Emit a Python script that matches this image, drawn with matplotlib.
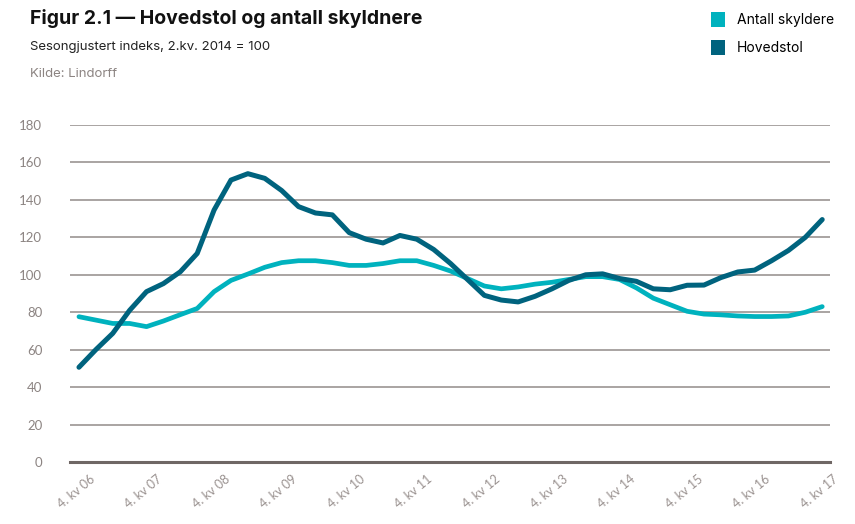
import matplotlib.pyplot as plt
from matplotlib.patches import Patch
import matplotlib.transforms as mtransforms

plt.rcParams['font.family'] = ['Inter', 'DejaVu Sans']

# kvartaler fra 4.kv 06 til 4.kv 17
etiketter = ["4. kv 06", "4. kv 07", "4. kv 08", "4. kv 09", "4. kv 10", "4. kv 11",
             "4. kv 12", "4. kv 13", "4. kv 14", "4. kv 15", "4. kv 16", "4. kv 17"]

hovedstol = [50.6, 60, 68.7, 81, 91, 95.3, 101.6, 111.4, 134.6, 150.6,
             154, 151.5, 145, 136.4, 133, 132, 122.5, 119, 117, 121,
             119, 113.5, 106, 97.5, 89, 86.5, 85.5, 88.5, 92.5, 97,
             100, 100.5, 98, 96.5, 92.5, 92, 94.4, 94.5, 98.5, 101.5,
             102.5, 107.5, 113, 120, 129.5]

antall_skyldnere = [77.6, 75.8, 74, 74, 72.3, 75.3, 78.7, 82, 91, 97,
                    100.4, 104, 106.5, 107.5, 107.5, 106.5, 105, 105, 106, 107.5,
                    107.5, 105, 102, 98, 94, 92.5, 93.5, 95, 96, 97.5,
                    99, 99, 97.5, 93, 87.5, 84, 80.5, 79, 78.6, 78,
                    77.7, 77.7, 78, 80, 83]

lys = "#00b2be"
mork = "#00637e"
grid_farge = "#a39d9b"
tekst_grå = "#8c8482"

fig = plt.figure(figsize=(8.55, 5.24), dpi=100)
ax = fig.add_axes([70/855, 62/524, 760/855, 337/524])

x = list(range(len(hovedstol)))
ax.plot(x, antall_skyldnere, color=lys, lw=3.4, solid_capstyle='round', solid_joinstyle='round', zorder=3)
ax.plot(x, hovedstol, color=mork, lw=3.6, solid_capstyle='round', solid_joinstyle='round', zorder=4)

ax.set_xlim(-0.53, 44.46)
ax.set_ylim(0, 180)
ax.set_yticks(range(0, 181, 20))
for v in range(20, 181, 20):
    ax.axhline(v, color=grid_farge, lw=1.3, zorder=1)
ax.axhline(0, color="#6f6765", lw=2.2, zorder=2, clip_on=False)

for s in ax.spines.values():
    s.set_visible(False)

ax.tick_params(axis='y', length=0, pad=20, labelsize=9.5, labelcolor=tekst_grå)
ax.tick_params(axis='x', length=0, pad=11, labelsize=9, labelcolor="#9a9290")
for lab in ax.get_yticklabels():
    lab.set_fontfamily(['Lato', 'DejaVu Sans'])

ax.set_xticks(range(0, 45, 4))
ax.set_xticklabels(etiketter, rotation=40, ha='right', va='center', rotation_mode='anchor',
                   fontfamily=['Lato', 'DejaVu Sans'])
forskyv = mtransforms.ScaledTranslation(14/100, 0, fig.dpi_scale_trans)
for lab in ax.get_xticklabels():
    lab.set_transform(lab.get_transform() + forskyv)

fig.text(30/855, 1 - 9/524, "Figur 2.1 — Hovedstol og antall skyldnere", fontsize=14,
         fontweight='bold', va='top', ha='left', color="#111111")
fig.text(30/855, 1 - 41/524, "Sesongjustert indeks, 2.kv. 2014 = 100", fontsize=9.5,
         va='top', ha='left', color="#222222")
fig.text(30/855, 1 - 68/524, "Kilde: Lindorff", fontsize=9.5,
         va='top', ha='left', color=tekst_grå)

handles = [Patch(facecolor=lys, label="Antall skyldere"),
           Patch(facecolor=mork, label="Hovedstol")]
fig.legend(handles=handles, loc='upper left', bbox_to_anchor=(700/855, 1 - 1/524),
           frameon=False, fontsize=10, handlelength=1.0, handleheight=1.25,
           handletextpad=0.85, labelspacing=0.95, borderpad=0.3)

fig.savefig("out.png", dpi=100)
